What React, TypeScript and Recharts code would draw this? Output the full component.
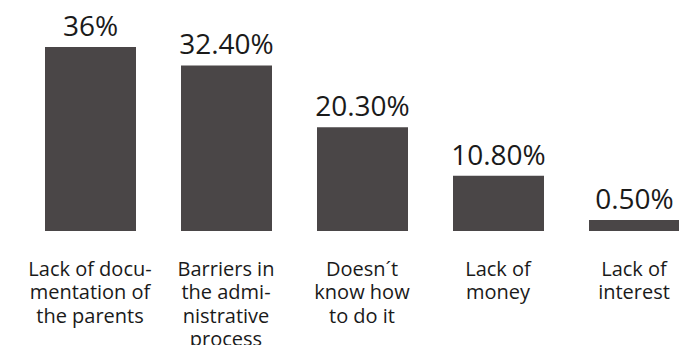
import React from "react";
import { BarChart, Bar, XAxis, YAxis, LabelList } from "recharts";

const categoryLines: string[][] = [
  ["Lack of docu-", "mentation of", "the parents"],
  ["Barriers in", "the admi-", "nistrative", "process"],
  ["Doesn\u00b4t", "know how", "to do it"],
  ["Lack of", "money"],
  ["Lack of", "interest"],
];
const values: number[] = [36, 32.4, 20.3, 10.8, 0.5];
const valueLabels: string[] = ["36%", "32.40%", "20.30%", "10.80%", "0.50%"];

const data = values.map((v, i) => ({
  name: categoryLines[i].join(" "),
  value: v,
  label: valueLabels[i],
}));

const FONT = "'Open Sans', sans-serif";

const CategoryTick = (props: any) => {
  const { x, y, payload } = props;
  const lines = categoryLines[payload.index] || [];
  return (
    <text
      x={x}
      y={y + 37}
      textAnchor="middle"
      fontFamily={FONT}
      fontSize={20}
      fill="#1a1a1a"
    >
      {lines.map((line, i) => (
        <tspan key={i} x={x} dy={i === 0 ? 0 : 23.3}>
          {line}
        </tspan>
      ))}
    </text>
  );
};

export default function App() {
  return (
    <div
      style={{
        position: "absolute",
        left: 0,
        top: 0,
        width: 679,
        height: 345,
        overflow: "hidden",
        background: "#fff",
      }}
    >
      <BarChart
        width={702}
        height={345}
        data={data}
        margin={{ top: 47, right: 0, bottom: 0, left: 22 }}
        barCategoryGap={0}
      >
        <XAxis
          dataKey="name"
          axisLine={false}
          tickLine={false}
          height={114}
          interval={0}
          tick={<CategoryTick />}
        />
        <YAxis hide domain={[0, 36]} />
        <Bar
          dataKey="value"
          fill="#4a4647"
          barSize={91}
          minPointSize={11}
          isAnimationActive={false}
        >
          <LabelList
            dataKey="label"
            position="top"
            offset={11}
            fontFamily={FONT}
            fontSize={28}
            fill="#1a1a1a"
          />
        </Bar>
      </BarChart>
    </div>
  );
}
